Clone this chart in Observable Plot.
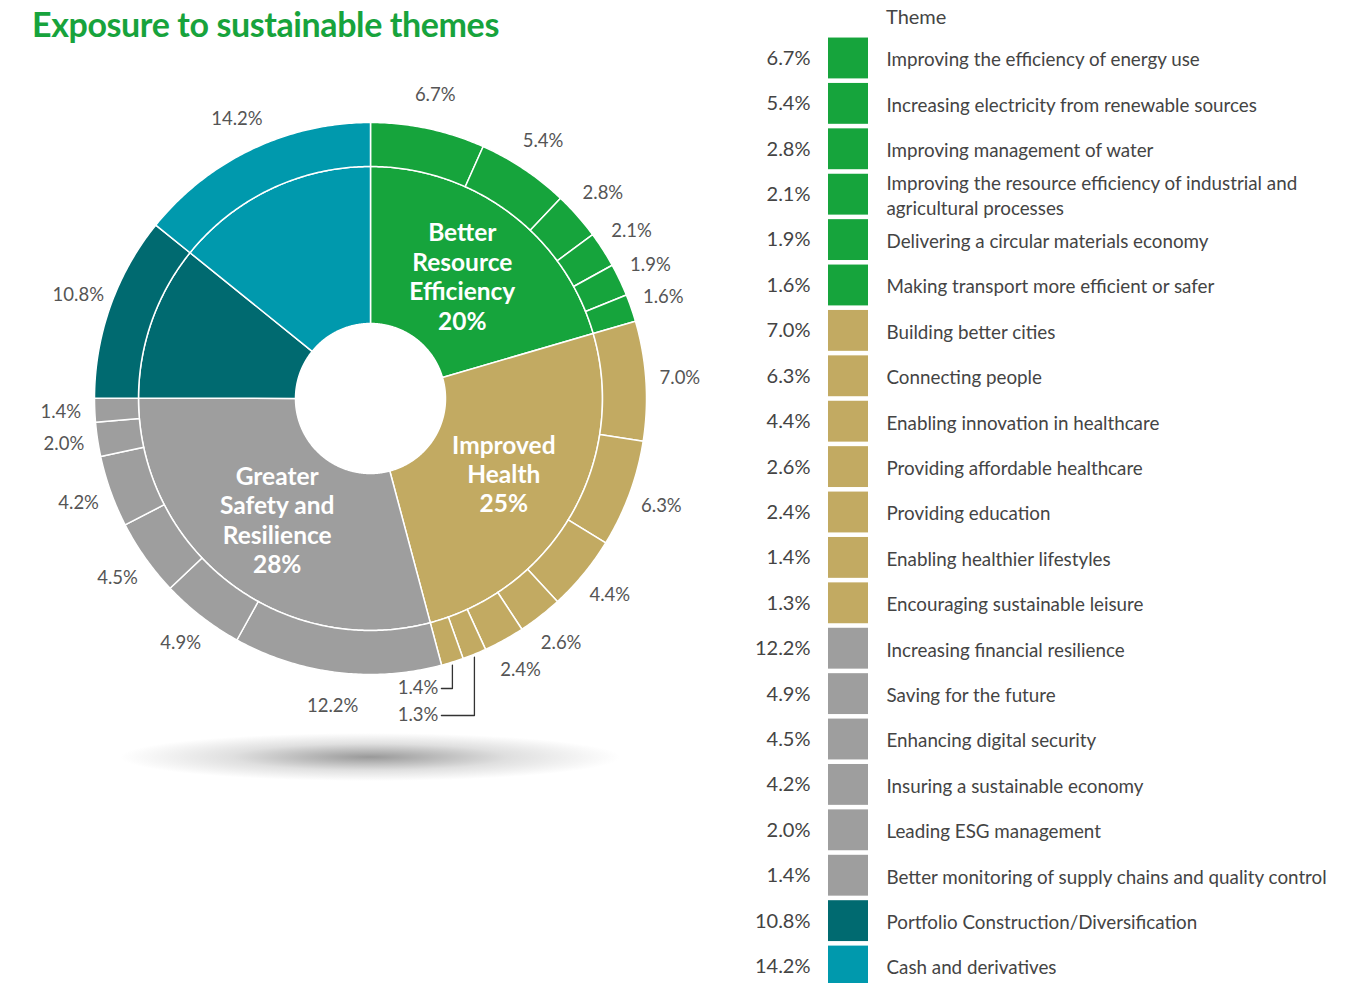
<!DOCTYPE html>
<html><head><meta charset="utf-8">
<script src="https://cdn.jsdelivr.net/npm/d3@7"></script>
<script src="https://cdn.jsdelivr.net/npm/@observablehq/plot@0.6"></script>
<style>
html,body{margin:0;padding:0;background:#fff;overflow:hidden;width:1360px;height:983px;position:relative;}
#title{position:absolute;left:32px;top:3px;font-family:Lato,sans-serif;font-weight:bold;font-size:34px;color:#17a33c;white-space:nowrap;letter-spacing:-0.4px;}
#donut{position:absolute;left:0;top:0;}
#legend{position:absolute;left:740px;top:0;}
#theme{position:absolute;left:886px;top:4px;font-family:Lato,sans-serif;font-size:20px;color:#444;}
#shadow{position:absolute;left:120px;top:733px;width:500px;height:48px;background:radial-gradient(ellipse closest-side at 50% 50%, rgba(110,110,110,0.7) 0%, rgba(150,150,150,0.3) 55%, rgba(255,255,255,0) 100%);}
</style></head>
<body>
<div id="shadow"></div>
<div id="donut"></div>
<div id="title">Exposure to sustainable themes</div>
<div id="theme">Theme</div>
<div id="legend"></div>
<script>
// ---- data ----
const groups = ["Better Resource Efficiency", "Improved Health", "Greater Safety and Resilience", "Portfolio Construction/Diversification", "Cash and derivatives"];
const groupColors = ["#16a43c", "#c2aa62", "#9e9e9e", "#006a70", "#0099ad"];
const groupLabels = ["Better\nResource\nEfficiency\n20%", "Improved\nHealth\n25%", "Greater\nSafety and\nResilience\n28%", "", ""];
const themes = [
  "Improving the efficiency of energy use",
  "Increasing electricity from renewable sources",
  "Improving management of water",
  "Improving the resource efficiency of industrial and agricultural processes",
  "Delivering a circular materials economy",
  "Making transport more efficient or safer",
  "Building better cities",
  "Connecting people",
  "Enabling innovation in healthcare",
  "Providing affordable healthcare",
  "Providing education",
  "Enabling healthier lifestyles",
  "Encouraging sustainable leisure",
  "Increasing financial resilience",
  "Saving for the future",
  "Enhancing digital security",
  "Insuring a sustainable economy",
  "Leading ESG management",
  "Better monitoring of supply chains and quality control",
  "Portfolio Construction/Diversification",
  "Cash and derivatives"
];
const themeValues = [6.7, 5.4, 2.8, 2.1, 1.9, 1.6, 7.0, 6.3, 4.4, 2.6, 2.4, 1.4, 1.3, 12.2, 4.9, 4.5, 4.2, 2.0, 1.4, 10.8, 14.2];
const themeGroups = [0, 0, 0, 0, 0, 0, 1, 1, 1, 1, 1, 1, 1, 2, 2, 2, 2, 2, 2, 3, 4];
const calloutThemes = ["Enabling healthier lifestyles", "Encouraging sustainable leisure"];

// ---- geometry (unit outer radius) ----
const total = d3.sum(themeValues);
const rHole = 75 / 276, rMid = 232 / 276, rOut = 1, rLabel = 310 / 276, rInnerLabel = 153 / 276;
const pt = (a, r) => [r * Math.sin(a), -r * Math.cos(a)];
function arcPoly(a0, a1, r0, r1) {
  const n = Math.max(2, Math.ceil((a1 - a0) / (Math.PI / 360)));
  const p = [];
  for (let i = 0; i <= n; i++) p.push(pt(a0 + (a1 - a0) * i / n, r1));
  for (let i = n; i >= 0; i--) p.push(pt(a0 + (a1 - a0) * i / n, r0));
  p.push(p[0]);
  return p;
}
let acc = 0;
const themeData = themes.map((t, i) => {
  const a0 = acc / total * 2 * Math.PI; acc += themeValues[i];
  const a1 = acc / total * 2 * Math.PI;
  return {theme: t, value: themeValues[i], group: groups[themeGroups[i]], a0, a1, am: (a0 + a1) / 2};
});
const groupData = groups.map((g, gi) => {
  const items = themeData.filter(d => d.group === g);
  const a0 = items[0].a0, a1 = items[items.length - 1].a1;
  return {group: g, label: groupLabels[gi], a0, a1, am: (a0 + a1) / 2};
});
const feat = (geometry, props) => ({type: "Feature", properties: props, geometry});
const innerFeatures = groupData.map(d => feat({type: "Polygon", coordinates: [arcPoly(d.a0, d.a1, rHole, rMid)]}, d));
const outerFeatures = themeData.map(d => feat({type: "Polygon", coordinates: [arcPoly(d.a0, d.a1, rMid, rOut)]}, d));

const plainLabels = themeData.filter(d => !calloutThemes.includes(d.theme)).map(d => {
  const [x, y] = pt(d.am, rLabel);
  return {x, y, text: d.value.toFixed(1) + "%"};
});
// callouts: segments ordered left-to-right get labels stacked top-to-bottom
const callouts = themeData.filter(d => calloutThemes.includes(d.theme));
const segAnchors = callouts.map(d => pt(d.am, rOut)).sort((a, b) => a[0] - b[0]);
const calloutRows = [290 / 276, 317 / 276];
const calloutEndX = segAnchors[0][0] - 11 / 276;
const calloutLines = segAnchors.map((p, i) => feat({type: "LineString", coordinates: [[p[0], p[1] + 3 / 276], [p[0], calloutRows[i]], [calloutEndX, calloutRows[i]]]}, {}));
const calloutLabels = callouts.map((d, i) => ({x: calloutEndX - 3 / 276, y: calloutRows[i], text: d.value.toFixed(1) + "%"}));
const innerLabels = groupData.filter(d => d.label).map(d => {
  const [x, y] = pt(d.am, rInnerLabel);
  return {x, y, text: d.label};
});

const donut = Plot.plot({
  width: 720, height: 790,
  marginLeft: 94, marginRight: 74, marginTop: 122, marginBottom: 116,
  projection: {type: "identity", domain: {type: "MultiPoint", coordinates: [[-1, -1], [1, 1]]}, clip: false},
  color: {domain: groups, range: groupColors},
  style: {fontFamily: "Lato, sans-serif", background: "transparent"},
  marks: [
    Plot.geo(innerFeatures, {fill: d => d.properties.group, stroke: "white", strokeWidth: 1.5}),
    Plot.geo(outerFeatures, {fill: d => d.properties.group, stroke: "white", strokeWidth: 1.5}),
    Plot.geo(calloutLines, {stroke: "#333", strokeWidth: 1.3}),
    Plot.text(plainLabels, {x: "x", y: "y", text: "text", fontSize: 18.5, fill: "#555"}),
    Plot.text(calloutLabels, {x: "x", y: "y", text: "text", fontSize: 18.5, fill: "#555", textAnchor: "end"}),
    Plot.text(innerLabels, {x: "x", y: "y", text: "text", fontSize: 24.5, fontWeight: "bold", fill: "white", lineHeight: 1.2})
  ]
});
document.getElementById("donut").append(donut);

const legend = Plot.plot({
  width: 620, height: 1000,
  marginLeft: 88, marginRight: 492, marginTop: 33, marginBottom: 9,
  x: {type: "band", domain: ["swatch"], padding: 0, axis: null, round: false},
  y: {type: "band", domain: themes, padding: 0.1, axis: null, round: false},
  color: {domain: groups, range: groupColors},
  style: {fontFamily: "Lato, sans-serif", background: "transparent", overflow: "visible"},
  marks: [
    Plot.cell(themeData, {x: () => "swatch", y: "theme", fill: "group", inset: 0}),
    Plot.text(themeData, {x: () => "swatch", y: "theme", text: d => d.value.toFixed(1) + "%", textAnchor: "end", dx: -38, fontSize: 20, fill: "#444"}),
    Plot.text(themeData, {x: () => "swatch", y: "theme", text: "theme", textAnchor: "start", dx: 38, fontSize: 18.8, fill: "#444", lineWidth: 30, lineHeight: 1.3})
  ]
});
document.getElementById("legend").append(legend);
</script>
</body></html>
